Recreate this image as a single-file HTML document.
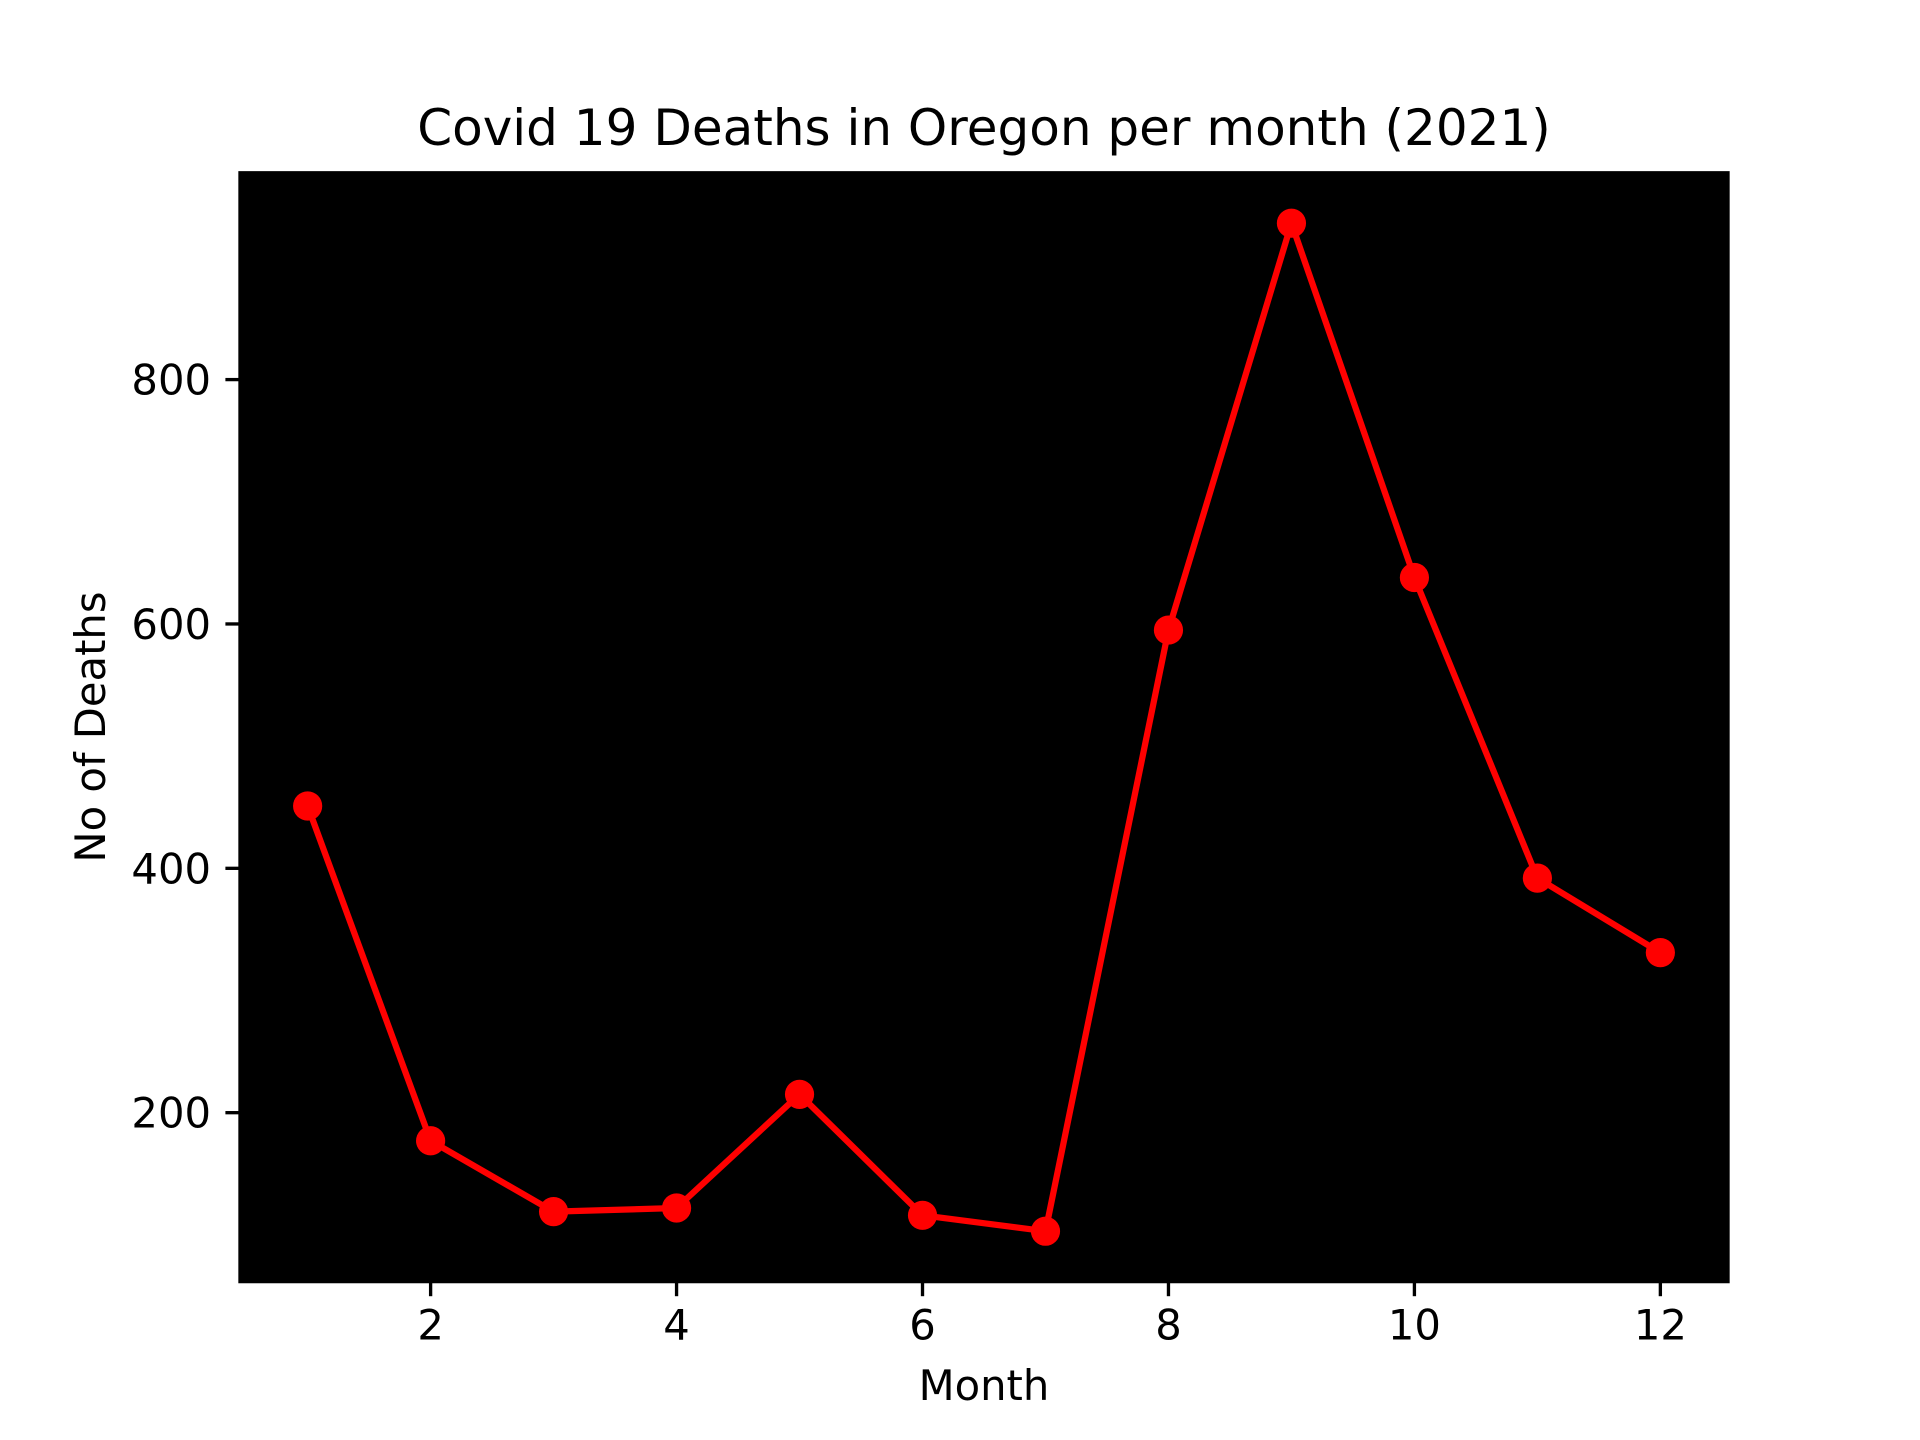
<!DOCTYPE html>
<html><head><meta charset="utf-8"><style>body{margin:0;background:#fff}svg{display:block}text{font-family:"DejaVu Sans","Liberation Sans",sans-serif;fill:#000}</style></head>
<body>
<svg id="chart" width="1920" height="1440" viewBox="0 0 1920 1440" xmlns="http://www.w3.org/2000/svg">
<rect width="1920" height="1440" fill="#fff"/>
<rect x="240" y="172.8" width="1488" height="1108.8" fill="#000"/>
<g id="marks"></g>
<g id="axes"></g>
<text x="984" y="145" font-size="50" text-anchor="middle">Covid 19 Deaths in Oregon per month (2021)</text>
<text x="984" y="1400" font-size="41.7" text-anchor="middle">Month</text>
<text x="0" y="0" font-size="41.7" text-anchor="middle" transform="translate(105,727) rotate(-90)">No of Deaths</text>
</svg>
<script>
const months = [1,2,3,4,5,6,7,8,9,10,11,12];
const deaths = [451,177,119,122,215,116,103,595,928,638,392,331];
const xTicks = [2,4,6,8,10,12];
const yTicks = [200,400,600,800];
const NS='http://www.w3.org/2000/svg';
const L=240,R=1728,T=172.8,B=1281.6;
const xmin=0.45,xmax=12.55;
const dmin=Math.min(...deaths),dmax=Math.max(...deaths),pad=(dmax-dmin)*0.05;
const ymin=dmin-pad,ymax=dmax+pad;
const X=v=>L+(v-xmin)/(xmax-xmin)*(R-L);
const Y=v=>B-(v-ymin)/(ymax-ymin)*(B-T);
function mk(tag,attrs,parent){const e=document.createElementNS(NS,tag);for(const k in attrs)e.setAttribute(k,attrs[k]);parent.appendChild(e);return e;}
const marks=document.getElementById('marks'),axes=document.getElementById('axes');
const line=mk('polyline',{points:months.map((m,i)=>X(m)+','+Y(deaths[i])).join(' '),fill:'none',stroke:'#f00','stroke-width':6.25,'stroke-linejoin':'round'},marks);


months.forEach((m,i)=>{const c=mk('circle',{cx:X(m),cy:Y(deaths[i]),r:14.6,fill:'#f00'},marks);

});
const frame=mk('rect',{x:L,y:T,width:R-L,height:B-T,fill:'none',stroke:'#000','stroke-width':3.33},axes);


xTicks.forEach(t=>{const x=X(t);const l=mk('line',{x1:x,x2:x,y1:B,y2:B+14.6,stroke:'#000','stroke-width':3.33},axes);


const tx=mk('text',{x:x,y:B+58,'font-size':41.7,'text-anchor':'middle'},axes);tx.textContent=t;

});
yTicks.forEach(t=>{const y=Y(t);const l=mk('line',{x1:L-14.6,x2:L,y1:y,y2:y,stroke:'#000','stroke-width':3.33},axes);


const tx=mk('text',{x:L-29,y:y+15,'font-size':41.7,'text-anchor':'end'},axes);tx.textContent=t;

});
</script>
</body></html>
